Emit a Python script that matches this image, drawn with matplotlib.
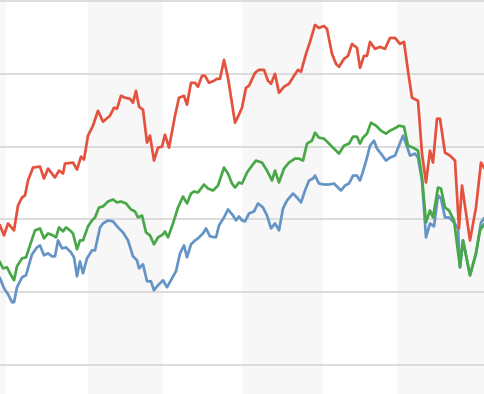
import numpy as np
import matplotlib

matplotlib.use("Agg")
import matplotlib.pyplot as plt

# three index series (arbitrary units, grid step 73)
red_x = [0, 4, 8, 14, 18, 22, 25, 28, 33, 40, 44, 48, 55, 59, 63, 65, 73, 77, 81, 84,
         88, 93, 98, 103, 110, 114, 117, 121, 125, 130, 133, 136, 139, 143, 147, 150, 154, 158, 162, 165,
         169, 175, 179, 184, 187, 191, 195, 198, 202, 205, 209, 214, 217, 220, 224, 228, 235, 238, 242, 246,
         249, 255, 259, 264, 268, 271, 275, 279, 284, 289, 294, 298, 301, 306, 310, 315, 319, 324, 327, 332,
         336, 339, 344, 348, 352, 357, 360, 364, 367, 370, 375, 380, 385, 390, 395, 400, 404, 408, 412, 418,
         422, 426, 430, 433, 437, 440, 445, 450, 455, 459, 462, 470, 476, 481, 484]
red_y = [140, 130, 142, 135, 160, 168, 170, 185, 198, 199, 187, 197, 188, 195, 192, 202, 203, 196, 209, 206,
         230, 240, 255, 244, 250, 258, 257, 270, 268, 267, 263, 275, 259, 256, 223, 230, 205, 218, 219, 231,
         218, 250, 268, 270, 261, 283, 283, 279, 290, 290, 283, 285, 287, 287, 306, 288, 243, 249, 258, 278,
         280, 293, 296, 296, 285, 282, 292, 273, 279, 282, 290, 296, 294, 312, 324, 341, 338, 340, 337, 312,
         302, 299, 307, 310, 322, 318, 298, 310, 310, 324, 317, 319, 317, 328, 328, 322, 324, 295, 268, 265,
         212, 183, 215, 203, 247, 247, 213, 210, 205, 137, 180, 125, 158, 203, 198]

green_x = [0, 3, 7, 10, 14, 17, 22, 26, 31, 35, 40, 44, 48, 53, 56, 59, 63, 66, 70, 73,
           77, 80, 83, 88, 92, 95, 99, 103, 108, 113, 117, 121, 126, 131, 135, 138, 142, 146, 150, 154,
           158, 163, 165, 168, 173, 178, 183, 187, 191, 194, 198, 201, 204, 208, 213, 218, 224, 228, 232, 235,
           239, 242, 247, 252, 256, 262, 267, 272, 275, 279, 284, 289, 295, 299, 303, 307, 312, 315, 319, 324,
           328, 333, 339, 344, 349, 353, 357, 360, 363, 367, 371, 376, 381, 386, 390, 396, 399, 404, 408, 413,
           418, 422, 426, 430, 433, 438, 441, 445, 449, 454, 460, 463, 470, 476, 480, 484]
green_y = [103, 97, 98, 92, 85, 99, 107, 108, 123, 135, 137, 127, 132, 130, 128, 138, 134, 138, 135, 132,
           116, 125, 125, 139, 145, 148, 158, 159, 164, 166, 163, 164, 162, 156, 154, 148, 150, 133, 130, 121,
           128, 131, 134, 128, 142, 158, 169, 162, 172, 174, 173, 177, 181, 177, 175, 180, 198, 192, 182, 178,
           183, 182, 193, 200, 205, 203, 195, 185, 195, 183, 197, 203, 207, 207, 205, 222, 225, 233, 228, 227,
           223, 218, 212, 220, 222, 229, 229, 222, 228, 232, 243, 240, 235, 232, 235, 238, 240, 239, 220, 218,
           215, 188, 143, 155, 148, 178, 177, 158, 155, 145, 98, 125, 90, 112, 135, 141]

blue_x = [0, 4, 8, 12, 14, 17, 22, 26, 32, 37, 40, 44, 48, 52, 55, 58, 62, 66, 71, 74,
          77, 80, 83, 87, 92, 95, 100, 103, 108, 113, 118, 123, 128, 133, 137, 139, 143, 147, 151, 154,
          158, 163, 167, 172, 176, 180, 184, 187, 191, 195, 198, 203, 206, 210, 216, 219, 224, 228, 233, 236,
          239, 242, 245, 249, 254, 258, 263, 267, 271, 275, 279, 283, 287, 293, 297, 301, 305, 309, 313, 315,
          319, 324, 329, 334, 341, 345, 349, 353, 357, 360, 363, 367, 370, 374, 377, 381, 386, 390, 395, 399,
          403, 406, 410, 415, 418, 422, 426, 430, 434, 438, 441, 445, 449, 454, 458, 460, 463, 470, 476, 481,
          484]
blue_y = [87, 77, 71, 63, 63, 78, 88, 90, 111, 118, 120, 110, 112, 109, 109, 125, 117, 118, 113, 108,
          89, 104, 92, 107, 115, 115, 138, 142, 145, 144, 138, 133, 125, 109, 105, 97, 101, 84, 84, 75,
          80, 85, 78, 87, 94, 112, 120, 108, 121, 125, 127, 132, 137, 129, 128, 140, 148, 156, 150, 145,
          149, 145, 144, 152, 154, 162, 158, 150, 137, 142, 135, 157, 165, 172, 168, 163, 175, 185, 187, 190,
          182, 181, 181, 182, 175, 180, 182, 190, 190, 185, 194, 208, 220, 225, 217, 212, 205, 208, 210, 220,
          230, 222, 210, 212, 208, 185, 128, 142, 139, 170, 167, 148, 148, 143, 137, 98, 125, 90, 112, 143,
          147]

# shaded periods (start, end)
bands = [(-10, 6), (88, 163), (242, 323), (397, 490)]
grid_levels = [0, 73, 146, 219, 292, 365]

fig = plt.figure(figsize=(4.84, 3.94), dpi=100)
ax = fig.add_axes([0, 0, 1, 1])
ax.set_xlim(0, 484)
ax.set_ylim(-29, 366)
ax.axis("off")

for start, end in bands:
    ax.axvspan(start, end, color="#f7f7f7", lw=0, zorder=0)
for level in grid_levels:
    ax.axhline(level, color="#d6d6d6", lw=1.2, zorder=1)

ax.plot(blue_x, blue_y, color="#6494c6", lw=1.95, zorder=3)
ax.plot(green_x, green_y, color="#48a848", lw=1.95, zorder=4)
ax.plot(red_x, red_y, color="#e4513d", lw=1.95, zorder=5)

fig.savefig("out.png", dpi=100)
